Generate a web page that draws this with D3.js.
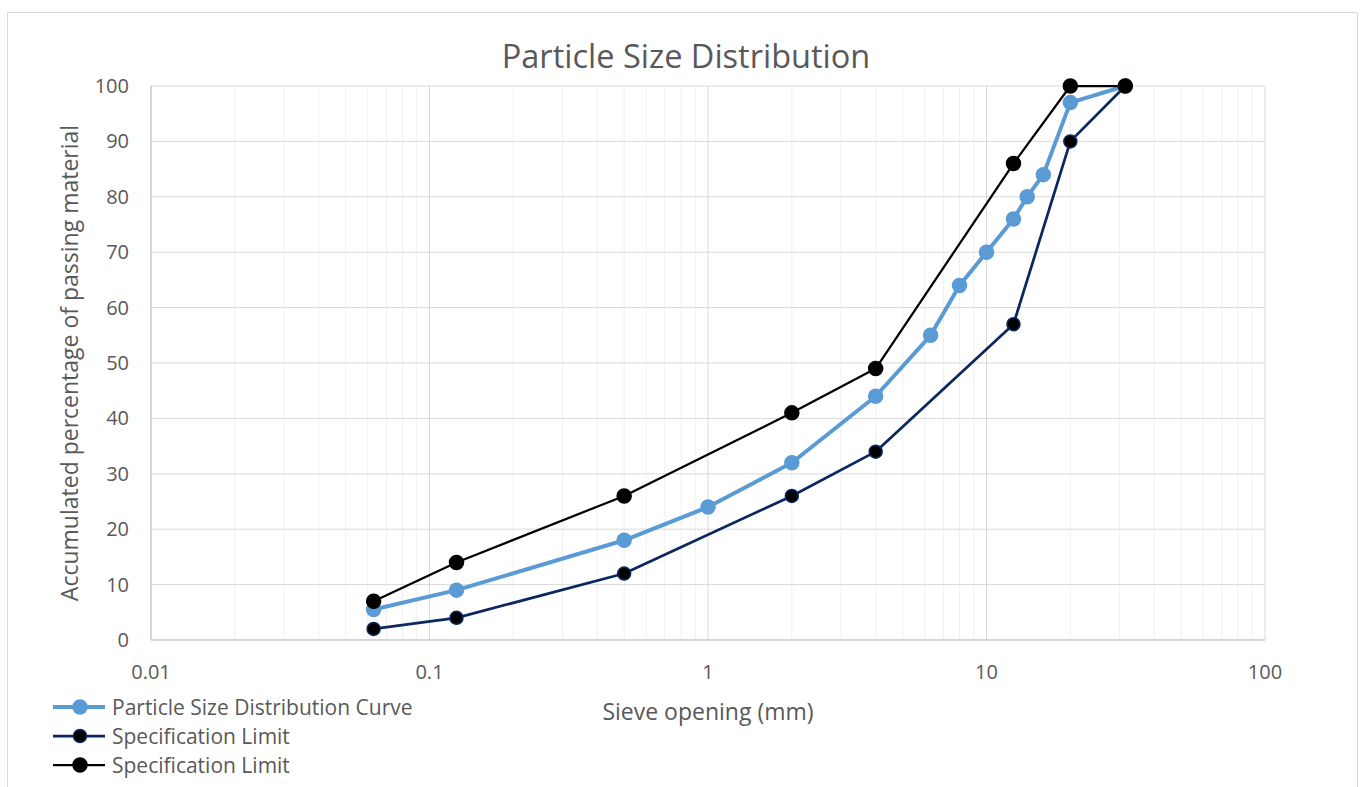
<!DOCTYPE html>
<html><head><meta charset="utf-8">
<script src="https://cdn.jsdelivr.net/npm/d3@7"></script>
<style>
html,body{margin:0;padding:0;background:#fff;}
text{font-family:"Open Sans","Liberation Sans",sans-serif;fill:#595959;}
</style></head>
<body><svg id="c" width="1370" height="787"></svg>
<script>
const sieveCurve = [0.063,0.125,0.5,1,2,4,6.3,8,10,12.5,14,16,20,31.5];
const passCurve  = [5.5,9,18,24,32,44,55,64,70,76,80,84,97,100];
const sieveLimit = [0.063,0.125,0.5,2,4,12.5,20,31.5];
const lowerLimit = [2,4,12,26,34,57,90,100];
const upperLimit = [7,14,26,41,49,86,100,100];
const xTicks = [0.01,0.1,1,10,100];
const yTicks = [0,10,20,30,40,50,60,70,80,90,100];
const seriesNames = ["Particle Size Distribution Curve","Specification Limit","Specification Limit"];
const colors = ["#5B9BD5","#0B2760","#000000"];

const svg = d3.select("#c");
const L=151,R=1265,T=86,B=640;
const x = d3.scaleLog().domain([0.01,100]).range([L,R]);
const y = d3.scaleLinear().domain([0,100]).range([B,T]);

svg.append("rect").attr("x",7.5).attr("y",12.5).attr("width",1350).attr("height",800)
  .attr("fill","none").attr("stroke","#d9d9d9");

const minor=[];
for(let d=0.01; d<100; d*=10){ for(let k=2;k<=9;k++) minor.push(d*k); }
svg.append("g").selectAll("line").data(minor).join("line")
  .attr("x1",d=>x(d)).attr("x2",d=>x(d)).attr("y1",T).attr("y2",B)
  .attr("stroke","#f0f0f0").attr("stroke-width",1);
svg.append("g").selectAll("line").data(xTicks).join("line")
  .attr("x1",d=>x(d)).attr("x2",d=>x(d)).attr("y1",T).attr("y2",B)
  .attr("stroke","#d9d9d9").attr("stroke-width",1);
svg.append("g").selectAll("line").data(yTicks).join("line")
  .attr("x1",L).attr("x2",R).attr("y1",d=>y(d)).attr("y2",d=>y(d))
  .attr("stroke","#d9d9d9").attr("stroke-width",1);
svg.append("line").attr("x1",L).attr("x2",L).attr("y1",T).attr("y2",B).attr("stroke","#bfbfbf");
svg.append("line").attr("x1",L).attr("x2",R).attr("y1",B).attr("y2",B).attr("stroke","#bfbfbf");

svg.append("g").selectAll("text").data(xTicks).join("text")
  .attr("x",d=>x(d)).attr("y",B+39).attr("text-anchor","middle")
  .attr("font-size",20).text(d=>String(d));
svg.append("g").selectAll("text").data(yTicks).join("text")
  .attr("x",L-22).attr("y",d=>y(d)+7).attr("text-anchor","end")
  .attr("font-size",20).text(d=>d);

svg.append("text").attr("x",686).attr("y",68).attr("text-anchor","middle")
  .attr("font-size",32.5).text("Particle Size Distribution");
svg.append("text").attr("x",708).attr("y",720).attr("text-anchor","middle")
  .attr("font-size",23).text("Sieve opening (mm)");
svg.append("text").attr("transform","translate(78,363) rotate(-90)").attr("text-anchor","middle")
  .attr("font-size",23).text("Accumulated percentage of passing material");

const series = [
  {xs:sieveCurve, ys:passCurve, c:colors[0], w:4, r:7, stroke:colors[0]},
  {xs:sieveLimit, ys:lowerLimit, c:colors[1], w:2.75, r:6.5, fill:"#000", stroke:colors[1]},
  {xs:sieveLimit, ys:upperLimit, c:colors[2], w:2.25, r:7, fill:"#000", stroke:"#000"}
];
const line = d3.line().x(d=>x(d[0])).y(d=>y(d[1]));
series.forEach(s=>{
  const pts = s.xs.map((v,i)=>[v,s.ys[i]]);
  svg.append("path").datum(pts).attr("d",line).attr("fill","none")
    .attr("stroke",s.c).attr("stroke-width",s.w).attr("stroke-linejoin","round");
});
series.forEach(s=>{
  const pts = s.xs.map((v,i)=>[v,s.ys[i]]);
  svg.append("g").selectAll("circle").data(pts).join("circle")
    .attr("cx",d=>x(d[0])).attr("cy",d=>y(d[1])).attr("r",s.r)
    .attr("fill",s.fill||s.c).attr("stroke",s.stroke).attr("stroke-width",1.5);
});

const lg = svg.append("g");
series.forEach((s,i)=>{
  const yy = 707 + i*29;
  lg.append("line").attr("x1",53).attr("x2",105).attr("y1",yy).attr("y2",yy)
    .attr("stroke",s.c).attr("stroke-width",s.w);
  lg.append("circle").attr("cx",80).attr("cy",yy).attr("r",s.r).attr("fill",s.fill||s.c)
    .attr("stroke",s.stroke).attr("stroke-width",1.5);
  lg.append("text").attr("x",112).attr("y",yy+7.5).attr("font-size",21).text(seriesNames[i]);
});
</script></body></html>
